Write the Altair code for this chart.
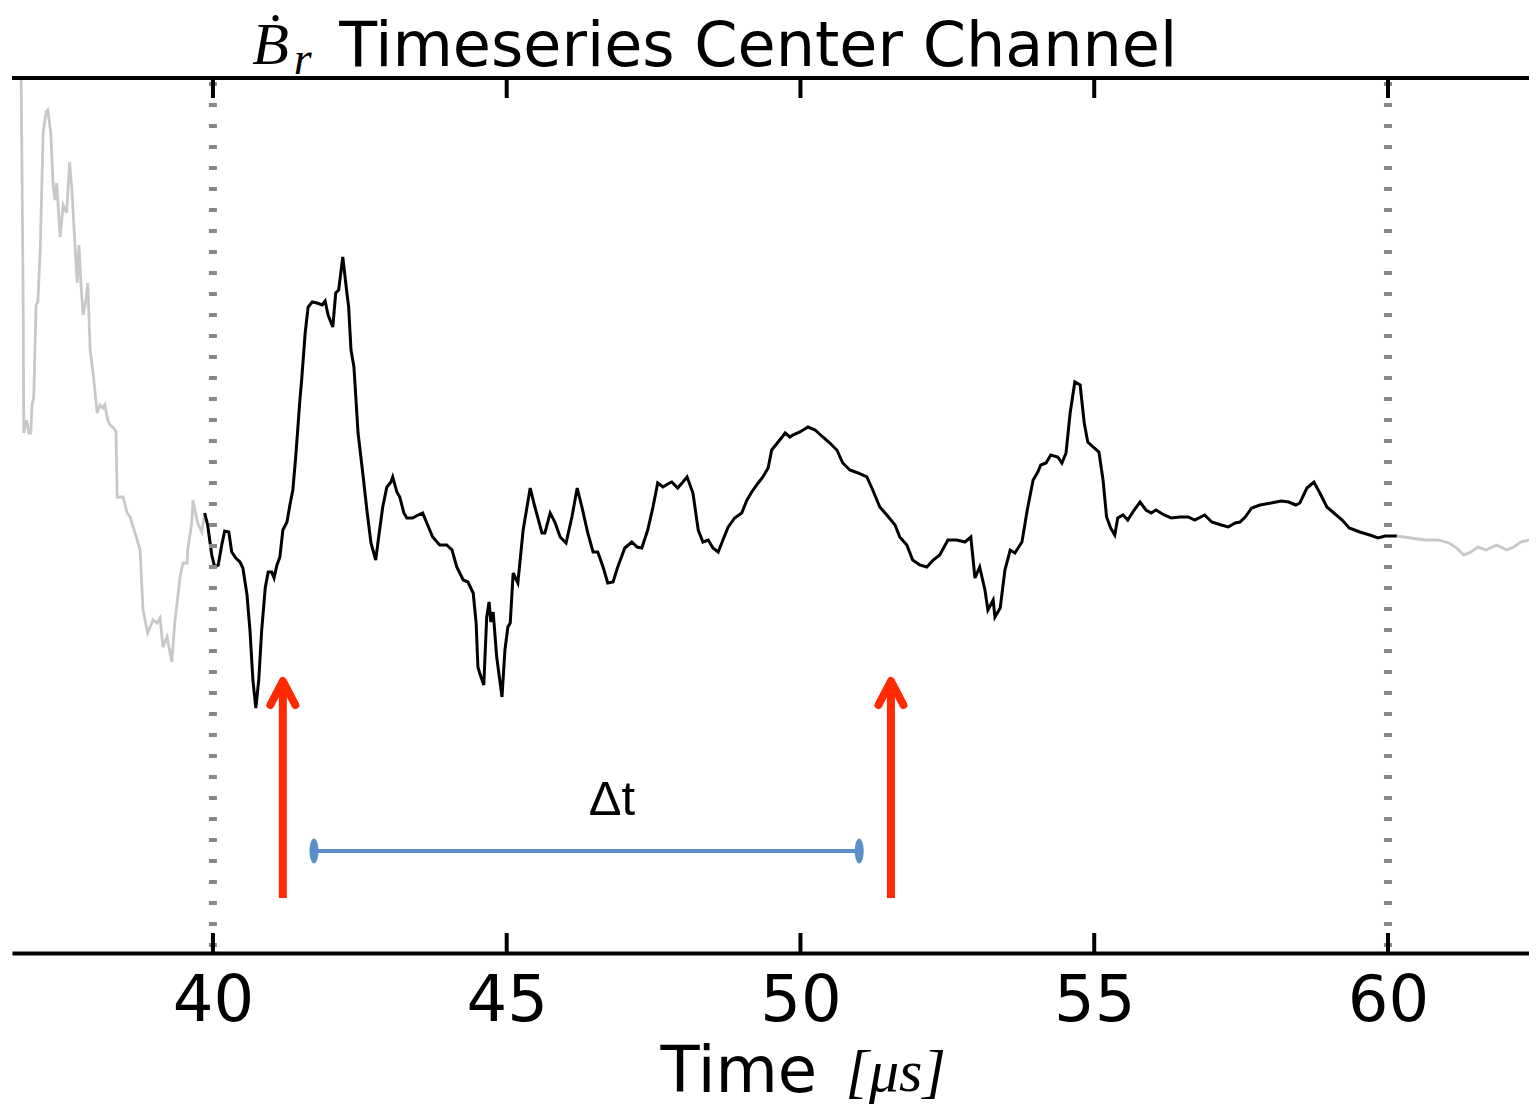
import altair as alt
import pandas as pd

# ---------------- data ----------------
# grey trace before the analysis window (time in microseconds, signal in arbitrary units)
pre_time = [36.73, 36.77, 36.78, 36.83, 36.87, 36.90, 36.92, 36.95, 36.97, 36.99,
            37.02, 37.06, 37.11, 37.16, 37.19, 37.24, 37.28, 37.31, 37.34, 37.40,
            37.45, 37.51, 37.56, 37.60, 37.65, 37.69, 37.72, 37.75, 37.79, 37.84,
            37.87, 37.91, 37.96, 38.03, 38.08, 38.13, 38.16, 38.21, 38.25, 38.31,
            38.35, 38.37, 38.47, 38.54, 38.59, 38.71, 38.76, 38.81, 38.89, 38.98,
            39.05, 39.10, 39.15, 39.22, 39.30, 39.35, 39.44, 39.49, 39.56, 39.57,
            39.64, 39.66, 39.74, 39.81, 39.86]
pre_value = [4.95, 2.35, 1.02, 1.15, 1.02, 1.02, 1.30, 1.37, 1.85, 2.30,
             2.33, 2.85, 4.02, 4.23, 4.25, 4.02, 3.50, 3.35, 3.52, 2.98,
             3.30, 3.22, 3.73, 3.45, 2.92, 2.52, 2.90, 2.55, 2.20, 2.35,
             2.52, 1.85, 1.62, 1.22, 1.30, 1.27, 1.30, 1.15, 1.10, 1.07,
             1.03, 0.38, 0.38, 0.22, 0.18, -0.05, -0.15, -0.75, -0.98, -0.85,
             -0.88, -0.83, -1.12, -1.02, -1.27, -0.88, -0.42, -0.28, -0.28, -0.15,
             0.12, 0.35, 0.12, 0.03, 0.22]

# black trace inside the analysis window
win_time = [39.86, 39.91, 39.98, 40.03, 40.09, 40.15, 40.20, 40.27, 40.32, 40.39,
            40.46, 40.51, 40.58, 40.63, 40.68, 40.73, 40.78, 40.83, 40.89, 40.94,
            41.00, 41.04, 41.09, 41.14, 41.19, 41.26, 41.31, 41.36, 41.41, 41.48,
            41.51, 41.57, 41.62, 41.69, 41.77, 41.86, 41.91, 41.96, 42.04, 42.09,
            42.14, 42.21, 42.28, 42.31, 42.35, 42.40, 42.47, 42.55, 42.62, 42.69,
            42.77, 42.83, 42.89, 42.96, 43.03, 43.06, 43.13, 43.18, 43.25, 43.30,
            43.40, 43.49, 43.57, 43.64, 43.74, 43.86, 43.98, 44.07, 44.15, 44.26,
            44.34, 44.43, 44.48, 44.51, 44.54, 44.61, 44.66, 44.70, 44.73, 44.77,
            44.83, 44.92, 44.97, 45.02, 45.06, 45.11, 45.19, 45.28, 45.40, 45.48,
            45.60, 45.65, 45.74, 45.82, 45.91, 46.01, 46.11, 46.20, 46.28, 46.38,
            46.47, 46.55, 46.64, 46.72, 46.81, 46.89, 47.01, 47.13, 47.22, 47.30,
            47.40, 47.49, 47.57, 47.66, 47.74, 47.81, 47.91, 48.00, 48.07, 48.17,
            48.26, 48.34, 48.43, 48.51, 48.60, 48.68, 48.77, 48.88, 49.00, 49.09,
            49.17, 49.28, 49.36, 49.45, 49.51, 49.62, 49.74, 49.82, 49.87, 49.99,
            50.13, 50.25, 50.38, 50.50, 50.62, 50.72, 50.84, 50.98, 51.13, 51.23,
            51.35, 51.47, 51.61, 51.69, 51.81, 51.91, 52.03, 52.15, 52.26, 52.37,
            52.51, 52.66, 52.80, 52.90, 52.97, 53.05, 53.14, 53.19, 53.28, 53.31,
            53.40, 53.48, 53.57, 53.65, 53.77, 53.86, 53.96, 54.04, 54.09, 54.18,
            54.26, 54.38, 54.45, 54.52, 54.59, 54.67, 54.76, 54.83, 54.89, 55.00,
            55.08, 55.15, 55.21, 55.28, 55.35, 55.40, 55.49, 55.57, 55.68, 55.78,
            55.88, 55.97, 56.05, 56.19, 56.31, 56.46, 56.60, 56.71, 56.88, 57.00,
            57.16, 57.28, 57.40, 57.48, 57.57, 57.68, 57.82, 58.01, 58.18, 58.31,
            58.43, 58.50, 58.62, 58.74, 58.84, 58.96, 59.08, 59.22, 59.34, 59.52,
            59.69, 59.83, 59.95, 60.15]
win_value = [0.22, 0.10, -0.20, -0.32, -0.30, -0.10, 0.04, 0.03, -0.17, -0.23,
             -0.27, -0.33, -0.60, -0.95, -1.45, -1.73, -1.45, -0.95, -0.53, -0.37,
             -0.37, -0.43, -0.30, -0.22, 0.05, 0.13, 0.30, 0.45, 0.79, 1.35,
             1.55, 2.02, 2.28, 2.33, 2.32, 2.30, 2.34, 2.20, 2.08, 2.42,
             2.45, 2.78, 2.42, 2.28, 1.85, 1.68, 1.02, 0.62, 0.25, -0.08,
             -0.25, 0.02, 0.28, 0.48, 0.53, 0.58, 0.43, 0.38, 0.22, 0.17,
             0.17, 0.20, 0.22, 0.12, -0.02, -0.10, -0.10, -0.15, -0.32, -0.45,
             -0.47, -0.58, -0.88, -1.32, -1.38, -1.50, -0.82, -0.67, -0.87, -0.77,
             -1.22, -1.62, -1.15, -0.92, -0.88, -0.38, -0.48, 0.05, 0.47, 0.28,
             0.02, 0.02, 0.22, 0.13, -0.02, -0.08, 0.18, 0.47, 0.28, 0.02,
             -0.17, -0.17, -0.32, -0.48, -0.47, -0.32, -0.13, -0.07, -0.12, -0.13,
             0.05, 0.28, 0.52, 0.48, 0.51, 0.53, 0.47, 0.53, 0.58, 0.42,
             0.05, -0.07, -0.05, -0.13, -0.17, -0.05, 0.08, 0.17, 0.22, 0.35,
             0.43, 0.52, 0.58, 0.67, 0.85, 0.93, 1.02, 0.98, 1.00, 1.03,
             1.08, 1.05, 0.98, 0.92, 0.85, 0.72, 0.65, 0.62, 0.58, 0.45,
             0.28, 0.20, 0.10, -0.02, -0.10, -0.25, -0.30, -0.32, -0.25, -0.20,
             -0.05, -0.05, -0.07, -0.02, -0.43, -0.32, -0.55, -0.75, -0.65, -0.82,
             -0.73, -0.35, -0.15, -0.18, -0.07, 0.25, 0.55, 0.63, 0.70, 0.72,
             0.80, 0.78, 0.72, 0.82, 1.22, 1.53, 1.50, 1.12, 0.93, 0.87,
             0.83, 0.55, 0.18, 0.07, 0.00, 0.17, 0.20, 0.15, 0.25, 0.33,
             0.25, 0.22, 0.25, 0.20, 0.17, 0.18, 0.18, 0.15, 0.20, 0.13,
             0.10, 0.08, 0.12, 0.13, 0.18, 0.27, 0.30, 0.32, 0.34, 0.33,
             0.30, 0.32, 0.47, 0.53, 0.42, 0.28, 0.22, 0.15, 0.07, 0.03,
             0.00, -0.03, -0.01, -0.01]

# grey trace after the analysis window
post_time = [60.15, 60.39, 60.63, 60.85, 61.04, 61.17, 61.29, 61.41, 61.53, 61.67,
             61.85, 62.02, 62.14, 62.26, 62.40, 62.52]
post_value = [-0.01, -0.03, -0.05, -0.05, -0.08, -0.13, -0.20, -0.17, -0.12, -0.15,
              -0.10, -0.15, -0.12, -0.07, -0.05, -0.02]

window_bounds = [40, 60]
tick_values = [40, 45, 50, 55, 60]

arrow_time = [41.19, 51.54]
arrow_tip = [-1.46, -1.46]
arrow_base = [-3.63, -3.63]

dt_start = [41.72]
dt_end = [51.00]
dt_level = [-3.16]
dt_label = ["Δt"]

x_domain = [36.58, 62.40]
y_domain = [-4.18, 4.57]

# ---------------- styling ----------------
W, H = 1517, 875
GREY = "#c8c8c8"
RED = "#ff2a00"
BLUE = "#5b8fc9"
CHEVRON = "M-0.52,1L0,0L0.52,1"
ELLIPSE = ("M0,-1C0.199,-1,0.36,-0.552,0.36,0C0.36,0.552,0.199,1,0,1"
           "C-0.199,1,-0.36,0.552,-0.36,0C-0.36,-0.552,-0.199,-1,0,-1Z")

xs = alt.Scale(domain=x_domain, nice=False, zero=False)
ys = alt.Scale(domain=y_domain, nice=False, zero=False)

x_axis = alt.Axis(
    values=tick_values, format="d", ticks=False, tickSize=0, grid=False,
    domain=True, domainColor="black", domainWidth=4,
    labelFont="DejaVu Sans", labelFontSize=64, labelColor="black",
    labelPadding=67, labelBaseline="alphabetic", labelFlush=False, labelOverlap=False,
    title="Time", titleFont="DejaVu Sans", titleFontSize=64, titleFontWeight="normal",
    titleColor="black", titleAlign="left", titleX=648, titleY=138,
    titleBaseline="alphabetic",
)

pre_df = pd.DataFrame({"t": pre_time, "v": pre_value})
win_df = pd.DataFrame({"t": win_time, "v": win_value})
post_df = pd.DataFrame({"t": post_time, "v": post_value})


def X(f="t"):
    return alt.X(f"{f}:Q", scale=xs, axis=x_axis)


def Y(f="v"):
    return alt.Y(f"{f}:Q", scale=ys, axis=None)


grey_pre = alt.Chart(pre_df).mark_line(color=GREY, strokeWidth=2.8, clip=True).encode(
    x=X(), y=Y())
grey_post = alt.Chart(post_df).mark_line(color=GREY, strokeWidth=2.8, clip=True).encode(
    x=X(), y=Y())
black = alt.Chart(win_df).mark_line(color="black", strokeWidth=3, clip=True).encode(
    x=X(), y=Y())

dotted = alt.Chart(pd.DataFrame({"t": window_bounds})).mark_rule(
    color="#888888", strokeWidth=8, strokeDash=[4, 17], strokeDashOffset=17).encode(x=X())

top_spine = alt.Chart(pd.DataFrame({"v": [y_domain[1]]})).mark_rule(
    color="black", strokeWidth=4).encode(y=Y())

# inward ticks on the top and bottom spines
tick_df = pd.DataFrame({"t": tick_values * 2,
                        "v": [y_domain[0]] * len(tick_values) + [y_domain[1]] * len(tick_values)})
inner_ticks = alt.Chart(tick_df).mark_tick(
    orient="vertical", size=40, thickness=4, color="black", opacity=1, clip=True).encode(
    x=X(), y=Y())

arrow_df = pd.DataFrame({"t": arrow_time, "tip": arrow_tip, "base": arrow_base})
shafts = alt.Chart(arrow_df).mark_rule(color=RED, strokeWidth=8).encode(
    x=X(), y=Y("base"), y2="tip:Q")
heads = alt.Chart(arrow_df).mark_point(
    shape=CHEVRON, size=2304, filled=False, strokeWidth=8, color=RED, opacity=1,
    strokeCap="round", strokeJoin="round").encode(x=X(), y=Y("tip"))

dt_df = pd.DataFrame({"t": dt_start, "t2": dt_end, "v": dt_level})
dt_rule = alt.Chart(dt_df).mark_rule(color=BLUE, strokeWidth=4).encode(
    x=X(), x2="t2:Q", y=Y())
caps_df = pd.DataFrame({"t": dt_start + dt_end, "v": dt_level * 2})
dt_caps = alt.Chart(caps_df).mark_point(
    shape=ELLIPSE, size=625, filled=True, color=BLUE, opacity=1, strokeWidth=0).encode(
    x=X(), y=Y())
dt_text = alt.Chart(pd.DataFrame({"t": [46.79], "v": [-2.80], "label": dt_label})).mark_text(
    font="Liberation Sans", fontSize=49, color="black", align="center",
    baseline="alphabetic").encode(x=X(), y=Y(), text="label:N")

# title pieces (math symbol in italic serif, the rest in sans)
title_b = alt.Chart(pd.DataFrame({"t": [40.98], "v": [4.71], "label": ["Ḃ"]})).mark_text(
    font="Liberation Serif", fontStyle="italic", fontSize=60, color="black",
    align="center", baseline="alphabetic").encode(x=X(), y=Y(), text="label:N")
title_r = alt.Chart(pd.DataFrame({"t": [41.53], "v": [4.61], "label": ["r"]})).mark_text(
    font="Liberation Serif", fontStyle="italic", fontSize=46, color="black",
    align="center", baseline="alphabetic").encode(x=X(), y=Y(), text="label:N")
title_main = alt.Chart(pd.DataFrame({"t": [42.15], "v": [4.69],
                                     "label": ["Timeseries Center Channel"]})).mark_text(
    font="DejaVu Sans", fontSize=62, color="black", align="left",
    baseline="alphabetic").encode(x=X(), y=Y(), text="label:N")
unit_text = alt.Chart(pd.DataFrame({"t": [51.62], "v": [-5.56], "label": ["[μs]"]})).mark_text(
    font="Liberation Serif", fontStyle="italic", fontSize=60, color="black",
    align="center", baseline="alphabetic").encode(x=X(), y=Y(), text="label:N")

chart = alt.layer(
    grey_pre, grey_post, black, dotted, top_spine, inner_ticks,
    shafts, heads, dt_rule, dt_caps, dt_text, title_b, title_r, title_main, unit_text,
).properties(
    width=W, height=H,
    autosize=alt.AutoSizeParams(type="none"),
    padding={"left": 4, "top": 70, "right": 0, "bottom": 160},
).configure_view(strokeWidth=0)

chart.save("out.html", embed_options={"renderer": "svg", "actions": False})
